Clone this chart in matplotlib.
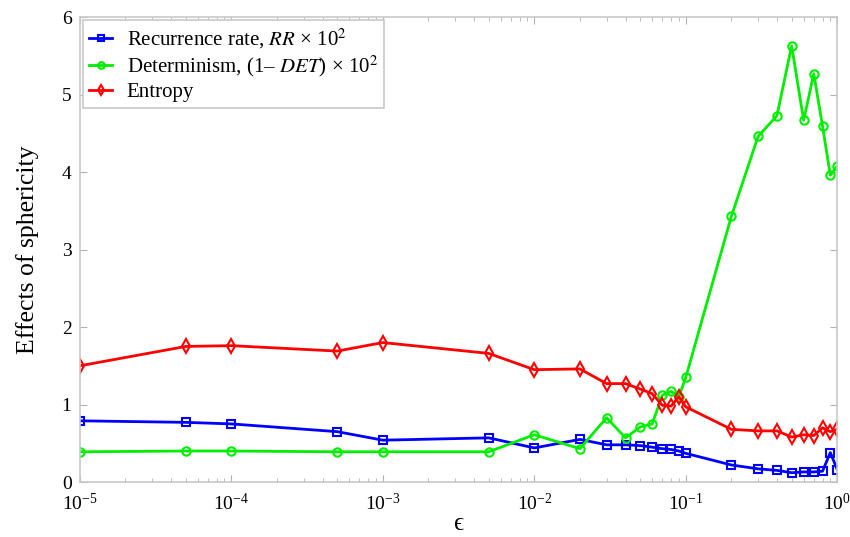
import numpy as np
import matplotlib
matplotlib.use("Agg")
import matplotlib.pyplot as plt

plt.rcParams['font.family'] = ['Liberation Serif', 'DejaVu Serif']
plt.rcParams['mathtext.fontset'] = 'stix'

# Threshold values (log-spaced sweep)
eps = [1e-5, 5e-5, 1e-4, 5e-4, 1e-3, 5e-3, 1e-2, 2e-2, 3e-2, 4e-2, 5e-2, 6e-2,
       7e-2, 8e-2, 9e-2, 0.1, 0.2, 0.3, 0.4, 0.5, 0.6, 0.7, 0.8, 0.9, 1.0]

recurrence_rate = [0.79, 0.77, 0.75, 0.65, 0.54, 0.57, 0.44, 0.55, 0.48, 0.48, 0.47, 0.45,
                   0.43, 0.42, 0.40, 0.37, 0.22, 0.17, 0.15, 0.12, 0.13, 0.13, 0.14, 0.38, 0.16]

determinism = [0.39, 0.40, 0.40, 0.39, 0.39, 0.39, 0.61, 0.43, 0.83, 0.57, 0.71, 0.75,
               1.12, 1.17, 1.10, 1.35, 3.43, 4.46, 4.73, 5.63, 4.67, 5.27, 4.59, 3.96, 4.08]

entropy = [1.50, 1.75, 1.76, 1.69, 1.80, 1.66, 1.45, 1.46, 1.27, 1.27, 1.20, 1.14,
           0.99, 0.98, 1.10, 0.97, 0.68, 0.66, 0.66, 0.58, 0.61, 0.60, 0.70, 0.65, 0.68]

labels = [r"Recurrence rate, $RR$ × 10$^2$",
          r"Determinism, (1– $DET$) × 10$^2$",
          "Entropy"]

fig = plt.figure(figsize=(8.5, 5.37), dpi=100)
ax = fig.add_axes([0.094, 0.1024, 0.891, 0.8656])

style = dict(linewidth=2, markersize=6, markerfacecolor='none', markeredgewidth=1.5)
ax.plot(eps, recurrence_rate, marker='s', color='#0000ff', label=labels[0],
        **dict(style, markersize=5.5))
ax.plot(eps, determinism, marker='o', color='#00ee00', label=labels[1], **style)
ax.plot(eps, entropy, marker='d', color='#ff0000', label=labels[2],
        **dict(style, markersize=7))

ax.set_xscale('log')
ax.set_xlim(1e-5, 1.0)
ax.set_ylim(0, 6)
ax.set_yticks(range(0, 7))

for sp in ax.spines.values():
    sp.set_color('#c8c8c8')
    sp.set_linewidth(1.2)
ax.tick_params(which='both', direction='in', top=True, right=True,
               color='#b0b0b0', labelsize=14)
ax.tick_params(axis='x', pad=8)
ax.tick_params(axis='y', pad=6)
ax.tick_params(which='major', length=5)
ax.tick_params(which='minor', length=3)

ax.set_ylabel("Effects of sphericity", fontsize=18.5, labelpad=16)
ax.set_xlabel("ϵ", fontsize=18, labelpad=-1)

leg = ax.legend(loc='upper left', fontsize=15, fancybox=False, framealpha=1,
                edgecolor='#c8c8c8', handlelength=1.1, borderaxespad=0.15,
                labelspacing=0.15, handletextpad=0.7, borderpad=0.3,
                markerscale=0.8)
leg.get_frame().set_linewidth(1.2)

fig.savefig("out.png", dpi=100)
